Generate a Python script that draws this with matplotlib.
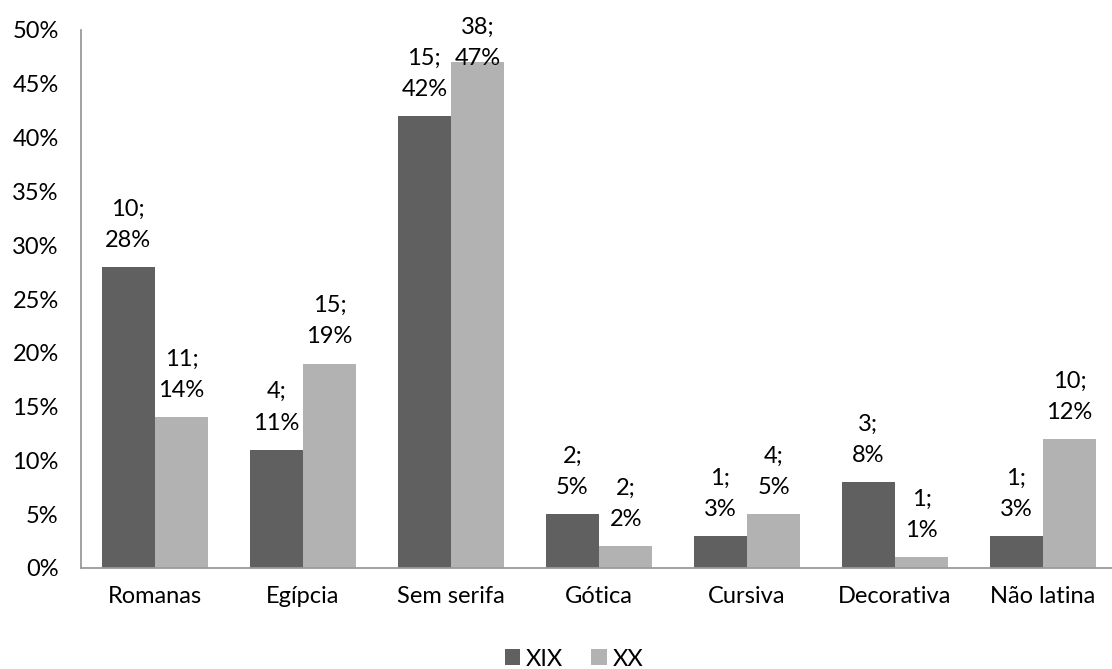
import numpy as np
from matplotlib import pyplot as plt

plt.rcParams['font.family'] = ['Lato', 'DejaVu Sans']

categories = ['Romanas', 'Egípcia', 'Sem serifa', 'Gótica', 'Cursiva', 'Decorativa', 'Não latina']
xix_counts = [10, 4, 15, 2, 1, 3, 1]
xix_pct = [28, 11, 42, 5, 3, 8, 3]
xx_counts = [11, 15, 38, 2, 4, 1, 10]
xx_pct = [14, 19, 47, 2, 5, 1, 12]

dark = '#606060'
light = '#b2b2b2'
axis_grey = '#9a9a9a'
fs = 17

fig = plt.figure(figsize=(11.12, 6.69), dpi=100)
ax = fig.add_axes([81 / 1112, 101 / 669, 1 - 81 / 1112, 538 / 669])

x = np.arange(len(categories))
w = 0.36
ax.bar(x - w / 2, xix_pct, w, color=dark, label='XIX')
ax.bar(x + w / 2, xx_pct, w, color=light, label='XX')


def put_labels(xs, counts, pcts):
    for xi, c, p in zip(xs, counts, pcts):
        # tall bars get their label pulled down onto the bar top
        y = min(p + 1.5, 46.4)
        ax.text(xi, y, f'{c};\n{p}%', ha='center', va='bottom',
                fontsize=fs, linespacing=1.6, color='#000000', clip_on=False)


put_labels(x - w / 2, xix_counts, xix_pct)
put_labels(x + w / 2, xx_counts, xx_pct)

ax.set_ylim(0, 50)
ax.set_xlim(-0.5, -0.5 + (1112 - 81) / 148)
ax.set_yticks(np.arange(0, 51, 5))
ax.set_yticklabels([f'{t}%' for t in range(0, 51, 5)])
ax.set_xticks(x)
ax.set_xticklabels(categories)
ax.tick_params(axis='y', length=0, pad=16, labelsize=fs)
ax.tick_params(axis='x', length=0, pad=13, labelsize=fs)

for s in ['top', 'right']:
    ax.spines[s].set_visible(False)
for s in ['left', 'bottom']:
    ax.spines[s].set_color(axis_grey)
    ax.spines[s].set_linewidth(1.3)

ax.legend(loc='center', bbox_to_anchor=(574 / 1112, 10 / 669),
          bbox_transform=fig.transFigure, ncol=2, frameon=False,
          fontsize=fs, handlelength=0.65, handleheight=0.65,
          handletextpad=0.25, columnspacing=1.2)

plt.savefig('out.png', dpi=100)
